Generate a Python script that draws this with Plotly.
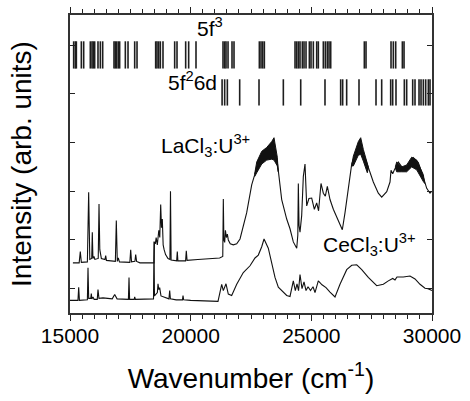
import plotly.graph_objects as go

# Calculated level positions (cm^-1)
f3_levels = [15152, 15221, 15263, 15470, 15567, 15842, 15912, 15967, 16022, 16160,
             16257, 16354, 16823, 16878, 16933, 17002, 17058, 17293, 17404, 17680,
             17777, 18550, 18605, 18674, 18743, 18853, 19337, 19434, 19793, 19917,
             20221, 21340, 21409, 21465, 21548, 21713, 21796, 22846, 22915, 22985,
             23053, 24324, 24393, 24462, 24531, 24627, 24697, 24780, 24918, 24987,
             25083, 25222, 25290, 25497, 25580, 25663, 25733, 25803, 27196, 27266,
             28302, 28398, 28496, 28772, 28841]
f2d_levels = [21302, 21409, 21520, 22031, 22832, 23840, 24560, 25566, 26215, 26298,
              26464, 26975, 27680, 27915, 28288, 28371, 28508, 28854, 28951, 29200,
              29296, 29462, 29545, 29641, 29738, 29848, 29918]

# LaCl3:U3+ spectrum (offset)
la_wn = [15120, 15380, 15427, 15470, 15720, 15773, 15820, 15900, 15924, 15950,
         15995, 16030, 16170, 16202, 16235, 16256, 16300, 16450, 16479, 16510,
         16880, 16919, 16960, 17000, 17050, 17480, 17515, 17550, 17690, 17722,
         17760, 17900, 18470, 18481, 18500, 18535, 18570, 18618, 18680, 18720,
         18758, 18790, 18825, 18860, 18900, 18960, 19061, 19140, 19164, 19190,
         19420, 19446, 19470, 19790, 19819, 19850, 20300, 21200, 21330, 21353,
         21375, 21410, 21440, 21480, 21520, 21560, 21640, 21768, 21908, 22045,
         22322, 22529, 22737, 22944, 23151, 23358, 23453, 23590, 23772, 23979,
         24116, 24253, 24395, 24440, 24461, 24490, 24531, 24600, 24668, 24738,
         24808, 24900, 25015, 25125, 25222, 25300, 25401, 25497, 25580, 25663,
         25774, 25911, 26052, 26188, 26284, 26396, 26533, 26674, 26810, 27017,
         27224, 27361, 27568, 27775, 27916, 28124, 28260, 28302, 28372, 28450,
         28604, 28811, 29018, 29225, 29432, 29640, 29781, 29918, 29988]
la_int = [1.03, 1.03, 1.26, 1.04, 1.05, 2.48, 1.10, 1.12, 1.66, 1.12,
          1.16, 1.10, 1.12, 2.24, 1.30, 1.26, 1.12, 1.10, 1.18, 1.08,
          1.06, 1.90, 1.06, 1.13, 1.05, 1.04, 1.30, 1.05, 1.06, 1.20,
          1.06, 1.03, 1.03, 1.03, 1.46, 1.42, 1.55, 1.40, 1.70, 1.55,
          2.23, 1.75, 1.93, 1.40, 1.30, 1.20, 1.12, 1.10, 2.50, 1.09,
          1.07, 1.26, 1.07, 1.07, 1.28, 1.08, 1.10, 1.13, 1.16, 2.34,
          1.50, 1.45, 1.70, 1.55, 1.62, 1.50, 1.42, 1.40, 1.42, 1.52,
          2.06, 2.63, 2.98, 3.17, 3.25, 3.32, 3.35, 3.10, 2.33, 1.93,
          1.73, 1.46, 1.33, 1.60, 2.66, 1.80, 1.66, 2.00, 2.80, 3.06,
          2.20, 2.35, 2.36, 2.13, 2.26, 2.10, 2.66, 2.46, 2.40, 2.60,
          2.33, 2.13, 1.96, 1.79, 1.71, 2.06, 2.59, 3.06, 3.26, 3.40,
          3.19, 2.99, 2.69, 2.46, 2.38, 2.49, 2.69, 2.93, 2.86, 2.95,
          3.10, 2.96, 3.03, 3.19, 3.09, 2.79, 2.56, 2.46, 2.50]

# Noise envelopes on the broad LaCl3 bands
band1_wn = [22650, 22737, 22944, 23151, 23358, 23453, 23590, 23630]
band1_hi = [2.85, 3.10, 3.32, 3.40, 3.52, 3.60, 3.20, 2.95]
band1_lo = [2.80, 2.88, 3.06, 3.14, 3.16, 3.14, 3.02, 2.90]
band2_wn = [26680, 26740, 26947, 27046, 27154, 27320, 27360]
band2_hi = [3.05, 3.22, 3.52, 3.60, 3.36, 3.10, 3.00]
band2_lo = [3.02, 3.02, 3.24, 3.26, 3.12, 2.88, 2.97]
band3_wn = [28480, 28537, 28744, 28951, 29158, 29365, 29640, 29700]
band3_hi = [3.00, 3.10, 3.00, 3.04, 3.20, 3.14, 2.84, 2.70]
band3_lo = [2.98, 2.90, 2.90, 2.90, 3.00, 2.94, 2.70, 2.66]

# CeCl3:U3+ spectrum
ce_wn = [15000, 15330, 15360, 15390, 15720, 15746, 15775, 15860, 15883, 15905,
         15953, 16000, 16130, 16160, 16200, 16367, 16750, 16852, 16950, 17420,
         17445, 17470, 17660, 17681, 17710, 18000, 18460, 18481, 18500, 18620,
         18647, 18680, 18716, 18770, 19100, 19131, 19160, 19400, 19660, 19683,
         19710, 20000, 21000, 21133, 21286, 21353, 21464, 21560, 21700, 21908,
         22181, 22459, 22666, 22803, 22944, 23040, 23217, 23358, 23495, 23632,
         23785, 23980, 24116, 24253, 24337, 24407, 24470, 24531, 24614, 24697,
         24780, 24863, 24966, 25070, 25152, 25289, 25442, 25608, 25774, 25981,
         26188, 26466, 26674, 26881, 27088, 27361, 27709, 27983, 28190, 28372,
         28467, 28550, 28811, 29089, 29296, 29503, 29710, 29835, 30000]
ce_int = [0.26, 0.26, 0.53, 0.26, 0.27, 0.93, 0.30, 0.30, 0.40, 0.29,
          0.33, 0.28, 0.28, 0.48, 0.30, 0.31, 0.29, 0.38, 0.29, 0.28,
          0.73, 0.28, 0.28, 0.33, 0.28, 0.28, 0.29, 1.47, 0.35, 0.42,
          0.60, 0.48, 0.52, 0.35, 0.29, 0.46, 0.29, 0.27, 0.27, 0.36,
          0.27, 0.26, 0.24, 0.24, 0.59, 0.46, 0.60, 0.39, 0.36, 0.59,
          0.83, 0.97, 1.13, 1.19, 1.36, 1.52, 1.33, 0.99, 0.73, 0.53,
          0.46, 0.36, 0.34, 0.66, 0.46, 0.60, 0.46, 0.79, 0.50, 0.64,
          0.46, 0.54, 0.46, 0.54, 0.42, 0.66, 0.58, 0.52, 0.43, 0.33,
          0.59, 0.89, 0.98, 0.99, 0.89, 0.73, 0.56, 0.59, 0.66, 0.71,
          0.68, 0.74, 0.74, 0.76, 0.70, 0.59, 0.51, 0.50, 0.46]

FONT = "Liberation Sans, Arial, sans-serif"
LINE = "#111111"


def sticks(levels, y0, y1):
    xs, ys = [], []
    for v in levels:
        xs += [v, v, None]
        ys += [y0, y1, None]
    return xs, ys


def band(wn, hi, lo):
    return wn + wn[::-1], hi + lo[::-1]


fig = go.Figure()

for levels, (y0, y1) in ((f3_levels, (5.02, 5.58)), (f2d_levels, (4.26, 4.80))):
    sx, sy = sticks(levels, y0, y1)
    fig.add_trace(go.Scatter(x=sx, y=sy, mode="lines",
                             line=dict(color="#1e1e1e", width=1.6),
                             hoverinfo="skip", showlegend=False))

fig.add_trace(go.Scatter(x=la_wn, y=la_int, mode="lines",
                         line=dict(color=LINE, width=1.1), showlegend=False))
for wn, hi, lo in ((band1_wn, band1_hi, band1_lo),
                   (band2_wn, band2_hi, band2_lo),
                   (band3_wn, band3_hi, band3_lo)):
    bx, by = band(wn, hi, lo)
    fig.add_trace(go.Scatter(x=bx, y=by, mode="lines", fill="toself",
                             fillcolor=LINE, line=dict(color=LINE, width=1),
                             hoverinfo="skip", showlegend=False))
fig.add_trace(go.Scatter(x=ce_wn, y=ce_int, mode="lines",
                         line=dict(color=LINE, width=1.1), showlegend=False))

label_font = dict(family=FONT, size=21, color="black")
fig.add_annotation(x=20800, y=5.88, text="5f<sup>3</sup>", showarrow=False,
                   xanchor="center", yanchor="middle", font=label_font)
fig.add_annotation(x=20076, y=4.76, text="5f<sup>2</sup>6d", showarrow=False,
                   xanchor="center", yanchor="middle", font=label_font)
fig.add_annotation(x=18700, y=3.44, text="LaCl<sub>3</sub>:U<sup>3+</sup>",
                   showarrow=False, xanchor="left", yanchor="middle", font=label_font)
fig.add_annotation(x=25400, y=1.40, text="CeCl<sub>3</sub>:U<sup>3+</sup>",
                   showarrow=False, xanchor="left", yanchor="middle", font=label_font)

fig.update_layout(
    width=470, height=401,
    margin=dict(l=70, r=38, t=7, b=88),
    paper_bgcolor="white", plot_bgcolor="white",
    font=dict(family=FONT, color="black"),
    showlegend=False,
)
fig.update_xaxes(
    range=[15000, 30000], tickvals=[15000, 20000, 25000, 30000],
    ticktext=["15000", "20000", "25000", "30000"],
    ticks="outside", ticklen=6, tickwidth=1.2, tickcolor="#222",
    minor=dict(dtick=500, ticks="outside", ticklen=4, tickwidth=1, tickcolor="#222"),
    showline=True, linecolor="#333", linewidth=1.5, mirror="ticks",
    showgrid=False, zeroline=False,
    tickfont=dict(family=FONT, size=21), ticklabelstandoff=-3,
    title=dict(text="Wavenumber (cm<sup>-1</sup>)", font=dict(family=FONT, size=28),
               standoff=22),
)
fig.update_yaxes(
    range=[0, 6.12], tickvals=[0.5, 1.5, 2.5, 3.5, 4.5, 5.5],
    showticklabels=False,
    ticks="inside", ticklen=5, tickwidth=1.2, tickcolor="#222",
    showline=True, linecolor="#333", linewidth=1.5, mirror="ticks",
    showgrid=False, zeroline=False,
    title=dict(text="Intensity (arb. units)", font=dict(family=FONT, size=28),
               standoff=28),
)

fig.write_html("out.html")
